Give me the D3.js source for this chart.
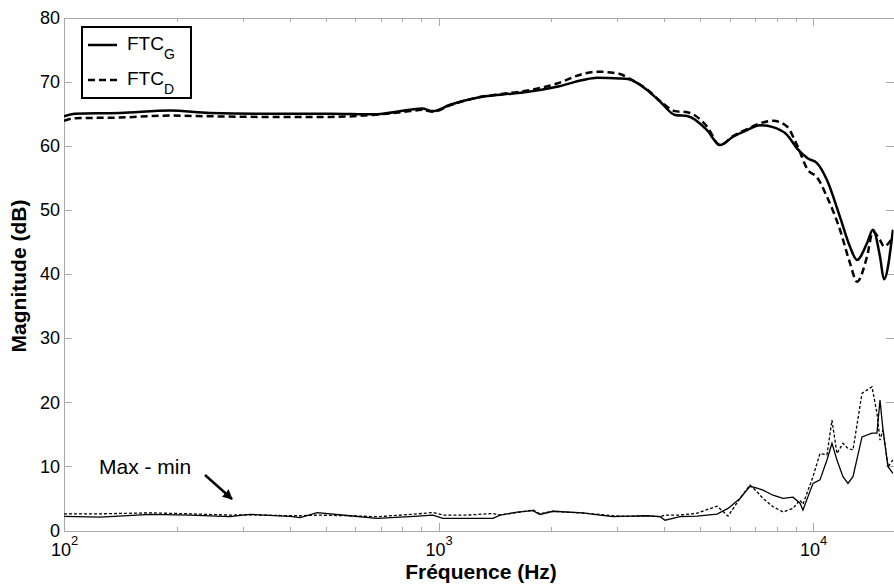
<!DOCTYPE html>
<html lang="fr">
<head>
<meta charset="UTF-8">
<title>FTC magnitude</title>
<script src="https://cdn.jsdelivr.net/npm/d3@7"></script>
<style>
  body { margin: 0; background: #fff; font-family: Arial, "Liberation Sans", sans-serif; }
  svg { font-family: Arial, "Liberation Sans", sans-serif; }
  .axis path, .axis line { stroke: #aaa; fill: none; shape-rendering: crispEdges; }
  .axis text { font-size: 18px; fill: #000; font-family: Arial, "Liberation Sans", sans-serif; }
</style>
</head>
<body>
<div id="chart"></div>
<script>
// upper curves: transfer function magnitude (dB)
const freqTop = [100, 107, 141, 192, 245, 334, 513, 668, 839, 903, 966, 1073, 1266, 1486, 1680,
  2071, 2430, 2648, 3050, 3203, 3601, 3900, 4278, 4633, 5206, 5640, 6109, 6658, 7211, 7811,
  8513, 9053, 9685, 10235, 10884, 11790, 12540, 13090, 13920, 14440, 15080, 15450, 16330];
const ftcG = [64.6, 65.0, 65.1, 65.5, 65.1, 65.0, 65.0, 64.9, 65.6, 65.8, 65.4, 66.4, 67.5, 68.0, 68.3,
  69.2, 70.25, 70.6, 70.5, 70.4, 68.7, 66.9, 64.8, 64.6, 62.45, 60.1, 61.4, 62.45, 63.2, 62.9,
  61.7, 59.6, 58.0, 57.3, 54.65, 48.9, 44.25, 42.2, 44.8, 46.9, 42.7, 39.2, 46.9];
const ftcD = [63.9, 64.3, 64.4, 64.7, 64.6, 64.5, 64.5, 64.8, 65.4, 65.6, 65.3, 66.3, 67.5, 68.1, 68.5,
  69.7, 71.2, 71.55, 71.2, 70.6, 68.8, 67.0, 65.4, 65.2, 63.0, 60.1, 61.5, 62.6, 63.5, 63.9,
  63.0, 60.1, 56.2, 55.1, 52.05, 46.9, 41.7, 38.8, 42.7, 46.6, 45.3, 44.3, 45.8];

// lower curves: max - min (dB)
const freqLow = [100, 125, 170, 217, 277, 314, 401, 427, 474, 580, 685, 839, 966, 1027, 1191,
  1397, 1459, 1620, 1786, 1865, 2020, 2430, 2697, 2922, 3243, 3601, 3900, 4022, 4411, 4895,
  5537, 5925, 6377, 6781, 7079, 7345, 7811, 8308, 8835, 9222, 9391, 9989, 10426, 10884, 11224,
  11573, 12010, 12385, 12772, 13500, 14355, 14800, 15080, 15360, 15840, 16330];
const maxMinG = [2.2, 2.1, 2.5, 2.4, 2.15, 2.5, 2.2, 2.0, 2.8, 2.3, 1.9, 2.15, 2.4, 1.9, 1.9,
  1.9, 2.4, 2.85, 3.1, 2.5, 3.0, 2.75, 2.4, 2.15, 2.25, 2.3, 2.15, 1.6, 2.15, 2.25,
  2.55, 3.45, 5.0, 6.9, 6.6, 6.3, 5.5, 5.0, 5.2, 4.25, 3.2, 7.35, 7.9, 11.0, 13.6,
  11.0, 8.4, 7.35, 8.4, 14.6, 15.2, 15.2, 20.35, 15.7, 9.95, 8.9];
const maxMinD = [2.6, 2.6, 2.75, 2.6, 2.4, 2.45, 2.3, 2.3, 2.4, 2.3, 2.15, 2.5, 2.8, 2.4, 2.4,
  2.65, 2.4, 2.8, 3.2, 2.6, 3.0, 2.7, 2.5, 2.3, 2.2, 2.3, 2.15, 2.4, 2.4, 2.7,
  3.8, 2.25, 5.0, 7.1, 6.05, 5.0, 3.7, 2.9, 3.45, 4.75, 4.1, 8.4, 12.0, 11.8, 17.2,
  12.0, 13.6, 12.8, 12.55, 21.4, 22.4, 18.3, 14.1, 15.7, 9.95, 11.0];

const yTicks = [0, 10, 20, 30, 40, 50, 60, 70, 80];
const decades = [100, 1000, 10000];

const margin = {top: 17.5, right: 0.5, bottom: 55.5, left: 64};
const width = 894 - margin.left - margin.right;
const height = 586 - margin.top - margin.bottom;

const svg = d3.select("#chart").append("svg")
    .attr("width", 894)
    .attr("height", 586);
const g = svg.append("g")
    .attr("transform", "translate(" + margin.left + "," + margin.top + ")");

const x = d3.scaleLog().domain([100, 16384]).range([0, width]);
const y = d3.scaleLinear().domain([0, 80]).range([height, 0]);

// minor ticks 2..9 in each decade
const minor = [];
decades.forEach(d => { for (let k = 2; k <= 9; k++) if (d * k < 16384) minor.push(d * k); });

// axes (ticks pointing inward)
g.append("g").attr("class", "axis")
    .attr("transform", "translate(0," + height + ")")
    .call(d3.axisBottom(x).tickValues(minor).tickSizeInner(-4).tickSizeOuter(0).tickFormat(""));
g.append("g").attr("class", "axis")
    .call(d3.axisTop(x).tickValues(minor).tickSizeInner(-4).tickSizeOuter(0).tickFormat(""));
g.append("g").attr("class", "axis")
    .call(d3.axisTop(x).tickValues(decades).tickSizeInner(-8).tickSizeOuter(0).tickFormat(""));

const xAxis = g.append("g").attr("class", "axis")
    .attr("transform", "translate(0," + height + ")")
    .call(d3.axisBottom(x).tickValues(decades).tickSizeInner(-8).tickSizeOuter(0).tickFormat(""));
xAxis.selectAll(".tick text").each(function(d) {
  const t = d3.select(this).attr("y", 25).attr("dy", null).attr("text-anchor", "middle");
  t.append("tspan").text("10");
  t.append("tspan").attr("dy", -11).style("font-size", "13px").text(Math.round(Math.log10(d)));
});

g.append("g").attr("class", "axis")
    .call(d3.axisLeft(y).tickValues(yTicks).tickSizeInner(-8).tickSizeOuter(0).tickPadding(4));
g.append("g").attr("class", "axis")
    .attr("transform", "translate(" + width + ",0)")
    .call(d3.axisRight(y).tickValues(yTicks).tickSizeInner(-8).tickSizeOuter(0).tickFormat(""));

// clip
g.append("clipPath").attr("id", "clip")
  .append("rect").attr("width", width).attr("height", height);
const plot = g.append("g").attr("clip-path", "url(#clip)");

const smooth = d3.line().x(d => x(d[0])).y(d => y(d[1])).curve(d3.curveMonotoneX);
const rough = d3.line().x(d => x(d[0])).y(d => y(d[1]));

plot.append("path")
    .attr("d", smooth(d3.zip(freqTop, ftcG)))
    .attr("fill", "none").attr("stroke", "#000").attr("stroke-width", 2.5);
plot.append("path")
    .attr("d", smooth(d3.zip(freqTop, ftcD)))
    .attr("fill", "none").attr("stroke", "#000").attr("stroke-width", 2.5)
    .attr("stroke-dasharray", "7,4");
plot.append("path")
    .attr("d", rough(d3.zip(freqLow, maxMinG)))
    .attr("fill", "none").attr("stroke", "#000").attr("stroke-width", 1.3);
plot.append("path")
    .attr("d", rough(d3.zip(freqLow, maxMinD)))
    .attr("fill", "none").attr("stroke", "#000").attr("stroke-width", 1.3)
    .attr("stroke-dasharray", "3,2");

// axis titles
svg.append("text")
    .attr("x", 481).attr("y", 579)
    .attr("text-anchor", "middle")
    .style("font-size", "21px").style("font-weight", "bold")
    .text("Fréquence (Hz)");
svg.append("text")
    .attr("transform", "translate(26,276) rotate(-90)")
    .attr("text-anchor", "middle")
    .style("font-size", "21px").style("font-weight", "bold")
    .text("Magnitude (dB)");

// annotation
svg.append("defs").append("marker")
    .attr("id", "arrow").attr("viewBox", "0 0 10 10")
    .attr("refX", 9).attr("refY", 5)
    .attr("markerWidth", 4).attr("markerHeight", 4)
    .attr("markerUnits", "strokeWidth")
    .attr("orient", "auto")
  .append("path").attr("d", "M0,0L10,5L0,10z").attr("fill", "#000");
svg.append("text")
    .attr("x", 99).attr("y", 474)
    .style("font-size", "21px")
    .text("Max - min");
svg.append("line")
    .attr("x1", 205).attr("y1", 475).attr("x2", 232).attr("y2", 499)
    .attr("stroke", "#000").attr("stroke-width", 2.5)
    .attr("marker-end", "url(#arrow)");

// legend
const legend = svg.append("g");
legend.append("rect")
    .attr("x", 82).attr("y", 27).attr("width", 109).attr("height", 71)
    .attr("fill", "#fff").attr("stroke", "#000").attr("stroke-width", 2);
const items = [{name: "G", dash: null, y: 45}, {name: "D", dash: "7,4", y: 80}];
items.forEach(it => {
  legend.append("line")
      .attr("x1", 88).attr("x2", 117).attr("y1", it.y).attr("y2", it.y)
      .attr("stroke", "#000").attr("stroke-width", 2.5)
      .attr("stroke-dasharray", it.dash);
  const t = legend.append("text")
      .attr("x", 127).attr("y", it.y + 5)
      .style("font-size", "19px");
  t.append("tspan").text("FTC");
  t.append("tspan").attr("dy", 9).style("font-size", "14px").text(it.name);
});
</script>
</body>
</html>
